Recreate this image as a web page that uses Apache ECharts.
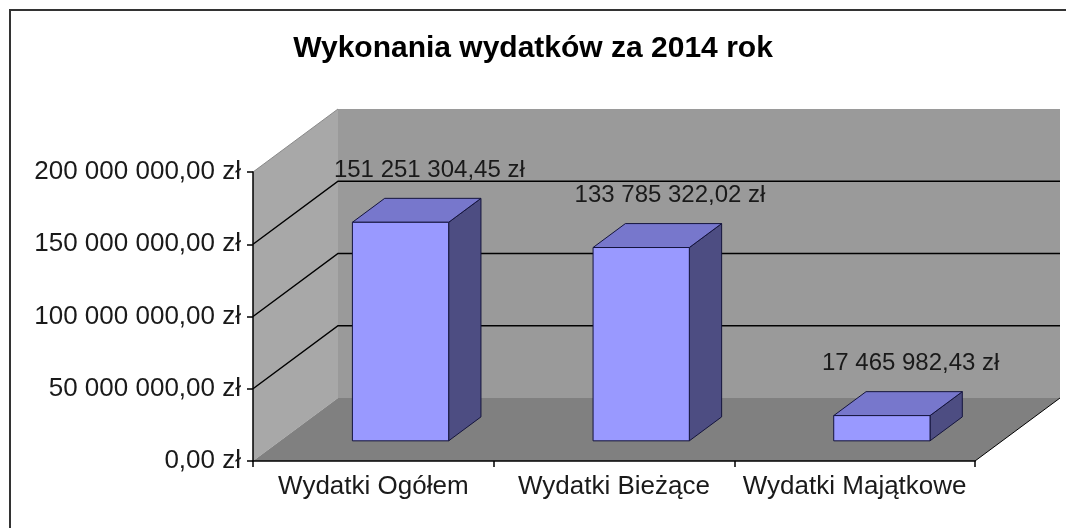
<!DOCTYPE html>
<html>
<head>
<meta charset="utf-8">
<title>Wykonania wydatków za 2014 rok</title>
<script src="https://cdn.jsdelivr.net/npm/echarts@6/dist/echarts.min.js"></script>
<style>
    html, body {margin: 0; padding: 0; background: #fff;}
    #chart {width: 1066px; height: 528px;}
</style>
</head>
<body>
<div id="chart"></div>
<script>
var categories = ['Wydatki Ogółem', 'Wydatki Bieżące', 'Wydatki Majątkowe'];
var values = [151251304.45, 133785322.02, 17465982.43];
var yMax = 200000000;
var yStep = 50000000;
var wallLines = [50000000, 100000000, 150000000];

var font = '"Liberation Sans", Arial, sans-serif';
// glebokosc "3D" w pikselach
var depthX = 85, depthY = -63;

function formatZl(v) {
    var parts = Number(v).toFixed(2).split('.');
    var intPart = parts[0].replace(/\B(?=(\d{3})+(?!\d))/g, ' ');
    return intPart + ',' + parts[1] + ' zł';
}

function renderWalls(params, api) {
    var cs = params.coordSys;
    var x0 = cs.x, x1 = cs.x + cs.width, yT = cs.y, yB = cs.y + cs.height;
    var children = [
        {type: 'polygon', shape: {points: [[x0, yT], [x0 + depthX, yT + depthY], [x0 + depthX, yB + depthY], [x0, yB]]},
            style: {fill: '#a8a8a8'}},
        {type: 'rect', shape: {x: x0 + depthX, y: yT + depthY, width: cs.width, height: cs.height},
            style: {fill: '#9a9a9a'}},
        {type: 'polygon', shape: {points: [[x0, yB], [x0 + depthX, yB + depthY], [x1 + depthX, yB + depthY], [x1, yB]]},
            style: {fill: '#808080'}},
        {type: 'line', shape: {x1: x1, y1: yB, x2: x1 + depthX, y2: yB + depthY},
            style: {stroke: '#000', lineWidth: 1}},
        {type: 'line', shape: {x1: x0, y1: yT, x2: x0 + depthX, y2: yT + depthY},
            style: {stroke: '#8a8a8a', lineWidth: 1}}
    ];
    for (var i = 0; i < wallLines.length; i++) {
        var y = api.coord([0, wallLines[i]])[1];
        children.push({
            type: 'polyline',
            shape: {points: [[x0, y], [x0 + depthX, y + depthY], [x1 + depthX, y + depthY]]},
            style: {stroke: '#000', fill: null, lineWidth: 1.5}
        });
    }
    return {type: 'group', children: children};
}

function renderBar(params, api) {
    var idx = api.value(0), v = api.value(1);
    var top = api.coord([idx, v]);
    var base = api.coord([idx, 0]);
    var w = api.size([1, 0])[0] * 0.4;
    var fx = depthX * 0.32, fy = depthY * 0.32;
    var dx = depthX * 0.38, dy = depthY * 0.38;
    var l = top[0] - w / 2 + fx, r = top[0] + w / 2 + fx;
    var t = top[1] + fy, b = base[1] + fy;
    var line = {stroke: '#14143c', lineWidth: 1};
    return {
        type: 'group',
        children: [
            {type: 'polygon', shape: {points: [[r, t], [r + dx, t + dy], [r + dx, b + dy], [r, b]]},
                style: {fill: '#4d4d82', stroke: line.stroke, lineWidth: line.lineWidth}},
            {type: 'polygon', shape: {points: [[l, t], [l + dx, t + dy], [r + dx, t + dy], [r, t]]},
                style: {fill: '#7777cc', stroke: line.stroke, lineWidth: line.lineWidth}},
            {type: 'rect', shape: {x: l, y: t, width: w, height: b - t},
                style: {fill: '#9999ff', stroke: line.stroke, lineWidth: line.lineWidth}},
            {type: 'text', x: top[0] + 56, y: top[1] - 72,
                style: {text: formatZl(v), fill: '#1a1a1a', fontSize: 24, fontFamily: font,
                    align: 'center', verticalAlign: 'middle'}}
        ]
    };
}

var barData = [];
for (var i = 0; i < values.length; i++) {
    barData.push([i, values[i]]);
}

var option = {
    animation: false,
    backgroundColor: '#fff',
    textStyle: {fontFamily: font},
    title: {
        text: 'Wykonania wydatków za 2014 rok',
        left: 'center',
        top: 29,
        textStyle: {fontSize: 30, fontWeight: 'bold', color: '#000', fontFamily: font}
    },
    graphic: [{
        type: 'rect',
        shape: {x: 10, y: 10, width: 1200, height: 700},
        style: {fill: 'none', stroke: '#333', lineWidth: 2}
    }],
    grid: {left: 253, top: 172, width: 722, height: 289},
    xAxis: {
        type: 'category',
        data: categories,
        z: 5,
        axisLine: {lineStyle: {color: '#000', width: 1.5}},
        axisTick: {show: true, length: 6, lineStyle: {color: '#000', width: 1.5}},
        axisLabel: {interval: 0, fontSize: 26, color: '#1a1a1a', margin: 13, fontFamily: font}
    },
    yAxis: {
        type: 'value',
        min: 0,
        max: yMax,
        interval: yStep,
        z: 5,
        axisLine: {show: true, lineStyle: {color: '#000', width: 1.5}},
        axisTick: {show: true, length: 6, lineStyle: {color: '#000', width: 1.5}},
        axisLabel: {fontSize: 26, color: '#1a1a1a', margin: 12, fontFamily: font, formatter: formatZl},
        splitLine: {show: false}
    },
    series: [
        {
            name: 'walls',
            type: 'custom',
            z: 1,
            silent: true,
            renderItem: renderWalls,
            data: [[0, 0]]
        },
        {
            name: 'Wydatki',
            type: 'custom',
            z: 3,
            renderItem: renderBar,
            encode: {x: 0, y: 1},
            data: barData
        }
    ]
};

var chart = echarts.init(document.getElementById('chart'));
chart.setOption(option);
</script>
</body>
</html>
